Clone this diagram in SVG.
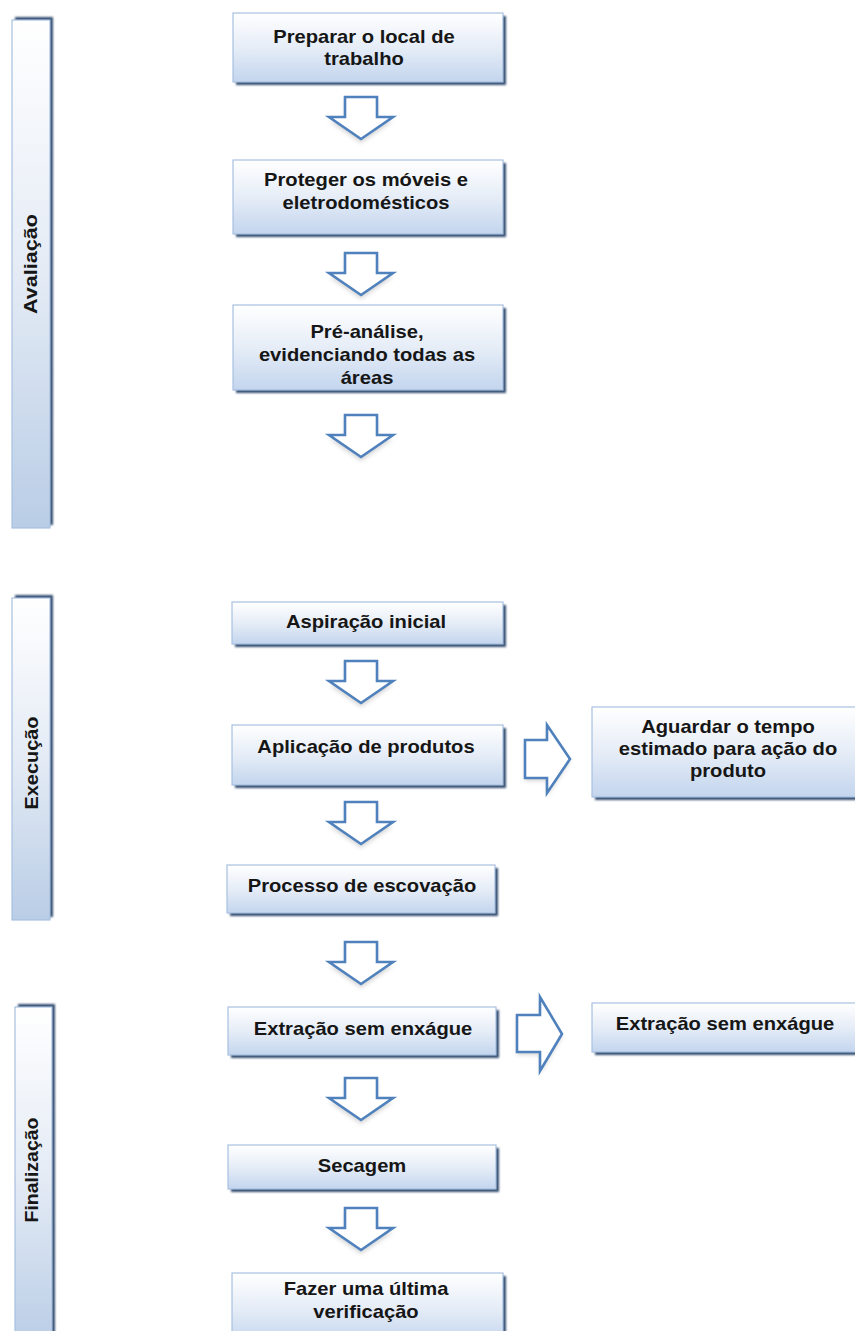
<svg xmlns="http://www.w3.org/2000/svg" width="855" height="1331" viewBox="0 0 855 1331">
<style>
.box{fill:url(#gBox);stroke:#a7c0e0;stroke-width:1.2}
.lane{fill:url(#gLane);stroke:#a7c0e0;stroke-width:1.2}
.sh{fill:#344f72;filter:url(#blur1)}
.t{font-family:"Liberation Sans",Arial,sans-serif;font-weight:bold;font-size:18px;fill:#161616;text-anchor:middle}
.lt{font-family:"Liberation Sans",Arial,sans-serif;font-weight:bold;font-size:19px;fill:#161616;text-anchor:middle}
.arr{fill:#fff;stroke:#4f81bd;stroke-width:2.6;stroke-linejoin:miter}
.ash{fill:#8a8a8a;opacity:0.35;filter:url(#blur2)}
</style>
<defs>
<linearGradient id="gBox" x1="0" y1="0" x2="0" y2="1">
<stop offset="0" stop-color="#ffffff"/>
<stop offset="0.5" stop-color="#e6edf7"/>
<stop offset="1" stop-color="#c3d5ee"/>
</linearGradient>
<linearGradient id="gLane" x1="0" y1="0" x2="0" y2="1">
<stop offset="0" stop-color="#ffffff"/>
<stop offset="0.5" stop-color="#e4ebf5"/>
<stop offset="1" stop-color="#b9cde6"/>
</linearGradient>
<filter id="blur1" x="-10%" y="-10%" width="120%" height="120%"><feGaussianBlur stdDeviation="0.8"/></filter>
<filter id="blur2" x="-30%" y="-30%" width="160%" height="160%"><feGaussianBlur stdDeviation="2"/></filter>
<path id="dArrow" d="M-16,0 H16 V20 H32 L0,42 L-32,20 H-16 Z"/>
</defs>
<rect width="855" height="1331" fill="#ffffff"/>

<g id="lane-avaliacao">
<rect class="sh" x="15" y="17" width="38" height="508"/>
<rect class="lane" x="12" y="20" width="38" height="508"/>
<text class="lt" transform="translate(37,264) rotate(-90)" textLength="100" lengthAdjust="spacingAndGlyphs">Avaliação</text>
</g>
<g id="lane-execucao">
<rect class="sh" x="15" y="595" width="38" height="322"/>
<rect class="lane" x="12" y="598" width="38" height="322"/>
<text class="lt" transform="translate(38,763) rotate(-90)" textLength="93" lengthAdjust="spacingAndGlyphs">Execução</text>
</g>
<g id="lane-finalizacao">
<rect class="sh" x="18" y="1004" width="37" height="340"/>
<rect class="lane" x="15" y="1007" width="37" height="340"/>
<text class="lt" transform="translate(38,1170) rotate(-90)" textLength="105" lengthAdjust="spacingAndGlyphs">Finalização</text>
</g>

<g id="connectors">
<g transform="translate(361,97)"><use href="#dArrow" class="ash" transform="translate(0,4)"/><use href="#dArrow" class="arr"/></g>
<g transform="translate(361,253)"><use href="#dArrow" class="ash" transform="translate(0,4)"/><use href="#dArrow" class="arr"/></g>
<g transform="translate(361,415)"><use href="#dArrow" class="ash" transform="translate(0,4)"/><use href="#dArrow" class="arr"/></g>
<g transform="translate(361,661)"><use href="#dArrow" class="ash" transform="translate(0,4)"/><use href="#dArrow" class="arr"/></g>
<g transform="translate(361,802)"><use href="#dArrow" class="ash" transform="translate(0,4)"/><use href="#dArrow" class="arr"/></g>
<g transform="translate(361,942)"><use href="#dArrow" class="ash" transform="translate(0,4)"/><use href="#dArrow" class="arr"/></g>
<g transform="translate(361,1078)"><use href="#dArrow" class="ash" transform="translate(0,4)"/><use href="#dArrow" class="arr"/></g>
<g transform="translate(361,1208)"><use href="#dArrow" class="ash" transform="translate(0,4)"/><use href="#dArrow" class="arr"/></g>
<path class="ash" d="M525,743 H547 V728 L570,762 L547,796 V781 H525 Z"/>
<path class="arr" d="M525,740 H547 V725 L570,759 L547,793 V778 H525 Z"/>
<path class="ash" d="M517,1018 H540 V1000 L562,1037 L540,1074 V1055 H517 Z"/>
<path class="arr" d="M517,1015 H540 V997 L562,1034 L540,1071 V1052 H517 Z"/>
</g>

<g id="n1">
<rect class="sh" x="236" y="16" width="270" height="69"/>
<rect class="box" x="233" y="13" width="270" height="69"/>
<text class="t" transform="translate(364,43) scale(1.12,1)">Preparar o local de</text>
<text class="t" transform="translate(364,65) scale(1.12,1)">trabalho</text>
</g>
<g id="n2">
<rect class="sh" x="236" y="163" width="270" height="74"/>
<rect class="box" x="233" y="160" width="270" height="74"/>
<text class="t" transform="translate(366,186) scale(1.12,1)">Proteger os móveis e</text>
<text class="t" transform="translate(366,209) scale(1.12,1)">eletrodomésticos</text>
</g>
<g id="n3">
<rect class="sh" x="236" y="308" width="270" height="85"/>
<rect class="box" x="233" y="305" width="270" height="85"/>
<text class="t" transform="translate(367,338) scale(1.12,1)">Pré-análise,</text>
<text class="t" transform="translate(367,361) scale(1.12,1)">evidenciando todas as</text>
<text class="t" transform="translate(367,384) scale(1.12,1)">áreas</text>
</g>
<g id="n4">
<rect class="sh" x="235" y="605" width="271" height="42"/>
<rect class="box" x="232" y="602" width="271" height="42"/>
<text class="t" transform="translate(366,628) scale(1.12,1)">Aspiração inicial</text>
</g>
<g id="n5">
<rect class="sh" x="235" y="728" width="271" height="60"/>
<rect class="box" x="232" y="725" width="271" height="60"/>
<text class="t" transform="translate(366,753) scale(1.12,1)">Aplicação de produtos</text>
</g>
<g id="n6">
<rect class="sh" x="595" y="710" width="272" height="90"/>
<rect class="box" x="592" y="707" width="272" height="90"/>
<text class="t" transform="translate(728,733) scale(1.12,1)">Aguardar o tempo</text>
<text class="t" transform="translate(728,755) scale(1.12,1)">estimado para ação do</text>
<text class="t" transform="translate(728,777) scale(1.12,1)">produto</text>
</g>
<g id="n7">
<rect class="sh" x="230" y="868" width="268" height="48"/>
<rect class="box" x="227" y="865" width="268" height="48"/>
<text class="t" transform="translate(362,892) scale(1.12,1)">Processo de escovação</text>
</g>
<g id="n8">
<rect class="sh" x="231" y="1010" width="268" height="48"/>
<rect class="box" x="228" y="1007" width="268" height="48"/>
<text class="t" transform="translate(363,1035) scale(1.12,1)">Extração sem enxágue</text>
</g>
<g id="n9">
<rect class="sh" x="595" y="1006" width="272" height="49"/>
<rect class="box" x="592" y="1003" width="272" height="49"/>
<text class="t" transform="translate(725,1030) scale(1.12,1)">Extração sem enxágue</text>
</g>
<g id="n10">
<rect class="sh" x="231" y="1148" width="268" height="44"/>
<rect class="box" x="228" y="1145" width="268" height="44"/>
<text class="t" transform="translate(362,1172) scale(1.12,1)">Secagem</text>
</g>
<g id="n11">
<rect class="sh" x="235" y="1276" width="271" height="70"/>
<rect class="box" x="232" y="1273" width="271" height="70"/>
<text class="t" transform="translate(366,1295) scale(1.12,1)">Fazer uma última</text>
<text class="t" transform="translate(366,1318) scale(1.12,1)">verificação</text>
</g>
</svg>
